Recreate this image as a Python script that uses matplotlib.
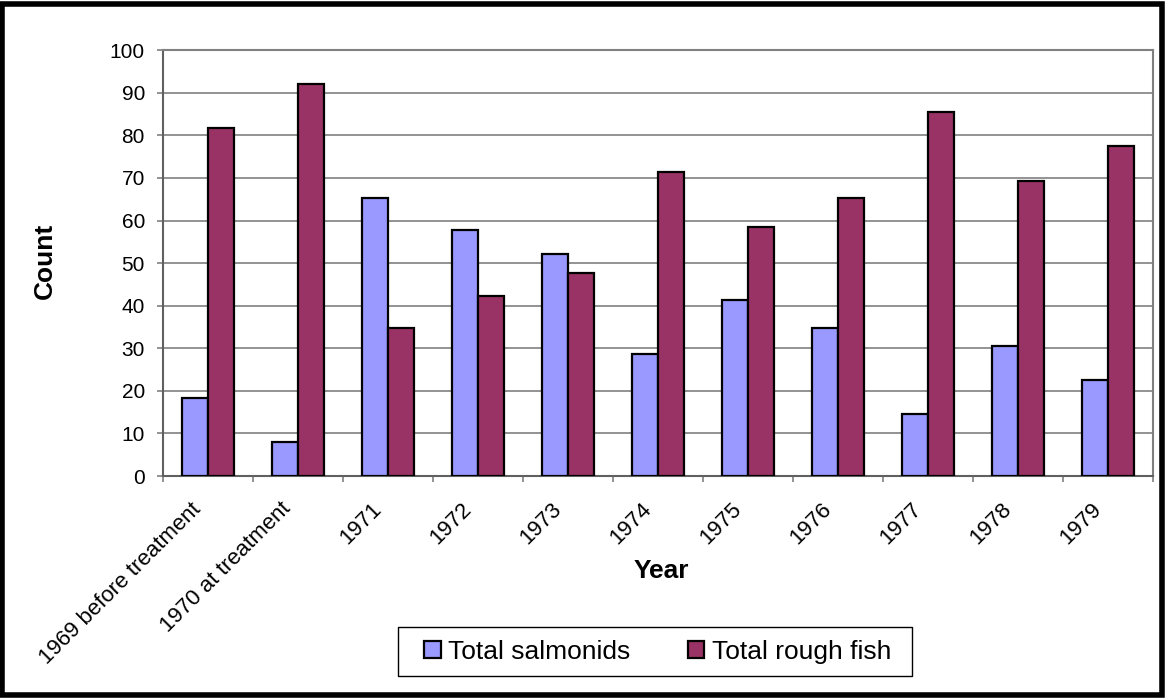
import matplotlib.pyplot as plt
import matplotlib.patches as mpatches
import matplotlib.transforms as mtransforms
import numpy as np

# Data
years = ["1969 before treatment", "1970 at treatment", "1971", "1972", "1973",
         "1974", "1975", "1976", "1977", "1978", "1979"]
salmonids = [18.3, 7.9, 65.2, 57.7, 52.1, 28.7, 41.3, 34.7, 14.5, 30.5, 22.5]
rough_fish = [81.7, 92.1, 34.8, 42.2, 47.8, 71.3, 58.6, 65.3, 85.5, 69.4, 77.4]

COLOR_SALM = "#9999FF"
COLOR_ROUGH = "#993366"
GRID = "#808080"

plt.rcParams["font.family"] = ["Liberation Sans", "DejaVu Sans"]

fig = plt.figure(figsize=(11.67, 6.98), dpi=100, facecolor="white")
ax = fig.add_axes([0.1397, 0.318, 0.8483, 0.610])

x = np.arange(len(years))
width = 0.286
ax.bar(x - width / 2, salmonids, width, color=COLOR_SALM, edgecolor="black",
       linewidth=1.6, label="Total salmonids", zorder=3)
ax.bar(x + width / 2, rough_fish, width, color=COLOR_ROUGH, edgecolor="black",
       linewidth=1.6, label="Total rough fish", zorder=3)

ax.set_xlim(-0.5, len(years) - 0.5)
ax.set_ylim(0, 100)
ax.set_yticks(np.arange(0, 101, 10))
ax.yaxis.grid(True, color=GRID, linewidth=1.2, zorder=0)

# category labels at centres, tick marks at category boundaries (Excel style)
ax.set_xticks(x)
ax.set_xticklabels(years, rotation=45, ha="right", va="center",
                   rotation_mode="anchor", fontsize=16)
ax.tick_params(axis="x", which="major", length=0, pad=0)
shift = mtransforms.ScaledTranslation(-10 / 100, -30 / 100, fig.dpi_scale_trans)
for lbl in ax.get_xticklabels():
    lbl.set_transform(lbl.get_transform() + shift)
ax.set_xticks(np.arange(-0.5, len(years), 1.0), minor=True)
ax.tick_params(axis="x", which="minor", length=4.3, width=1.2, color=GRID)
ax.tick_params(axis="y", length=4, width=1.2, color=GRID, labelsize=15, pad=9)

for side in ["top", "right"]:
    ax.spines[side].set_color(GRID)
    ax.spines[side].set_linewidth(1.5)
for side in ["left", "bottom"]:
    ax.spines[side].set_color("#606060")
    ax.spines[side].set_linewidth(1.5)

fig.text(0.0386, 0.626, "Count", fontsize=19, fontweight="bold", rotation=90,
         ha="center", va="center")
fig.text(0.5664, 0.172, "Year", fontsize=19, fontweight="bold", ha="center", va="baseline")

leg = fig.legend(loc="center", bbox_to_anchor=(0.5635, 0.0666), ncol=2, fontsize=19,
                 frameon=False, handlelength=0.62, handleheight=0.62,
                 handletextpad=0.27, columnspacing=2.2)
# legend box drawn separately (wider padding than matplotlib's frame allows)
fig.patches.append(mpatches.Rectangle((398 / 1167, 22 / 698), 514 / 1167, 49 / 698,
                                      transform=fig.transFigure, fill=False,
                                      edgecolor="black", linewidth=1.0))

# thick black border around the whole chart
fig.patches.append(mpatches.Rectangle((0.002, 0.004), 0.994, 0.99, transform=fig.transFigure,
                                      fill=False, edgecolor="black", linewidth=4))

fig.savefig("out.png", dpi=100, facecolor="white")
